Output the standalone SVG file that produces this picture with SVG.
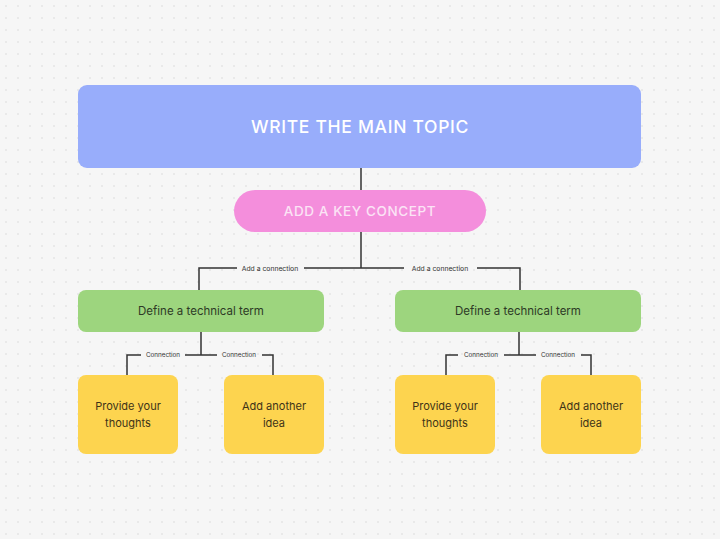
<svg xmlns="http://www.w3.org/2000/svg" width="720" height="539" viewBox="0 0 720 539">
<defs>
<pattern id="dots" x="0" y="0" width="12" height="12" patternUnits="userSpaceOnUse">
<circle cx="6" cy="6" r="0.8" fill="#d9d9d9"/>
</pattern>
<style>
.t{font-family:Inter,"Open Sans","Liberation Sans",sans-serif;text-anchor:middle}
.title{font-size:17.5px;font-weight:500;fill:#ffffff;letter-spacing:0.7px}
.key{font-size:13.5px;font-weight:500;fill:#fbe3f5;letter-spacing:0.6px}
.term{font-size:11.5px;fill:#2e3a26}
.leaf{font-size:11px;fill:#3d3318}
.lbl{font-size:6.8px;fill:#333333}
.lbl2{font-size:6.3px;fill:#333333}
.c{fill:none;stroke:#333333;stroke-width:1.5}
</style>
</defs>
<rect width="720" height="539" fill="#f6f6f6"/>
<rect width="720" height="539" fill="url(#dots)"/>
<g id="connectors">
<path class="c" d="M361 168 V190"/>
<path class="c" d="M361 232 V268"/>
<path class="c" d="M199 290 V268 H237 M304 268 H404 M477 268 H520 V290"/>
<path class="c" d="M201 332 V355 M127 375 V355 H141 M185 355 H217 M262 355 H273 V375"/>
<path class="c" d="M519 332 V355 M446 375 V355 H458 M504 355 H536 M581 355 H591 V375"/>
<text class="t lbl" x="270" y="270.5">Add a connection</text>
<text class="t lbl" x="440" y="270.5">Add a connection</text>
<text class="t lbl2" x="163" y="357.3">Connection</text>
<text class="t lbl2" x="239" y="357.3">Connection</text>
<text class="t lbl2" x="481" y="357.3">Connection</text>
<text class="t lbl2" x="558" y="357.3">Connection</text>
</g>
<g id="main">
<rect x="78" y="85" width="563" height="83" rx="9" fill="#98adfb"/>
<text class="t title" x="360" y="133">WRITE THE MAIN TOPIC</text>
</g>
<g id="key">
<rect x="234" y="190" width="252" height="42" rx="21" fill="#f48edc"/>
<text class="t key" x="360" y="216">ADD A KEY CONCEPT</text>
</g>
<g id="term-left">
<rect x="78" y="290" width="246" height="42" rx="8" fill="#9dd57e"/>
<text class="t term" x="201" y="315">Define a technical term</text>
</g>
<g id="term-right">
<rect x="395" y="290" width="246" height="42" rx="8" fill="#9dd57e"/>
<text class="t term" x="518" y="315">Define a technical term</text>
</g>
<g id="leaf-1">
<rect x="78" y="375" width="100" height="79" rx="8" fill="#fdd44f"/>
<text class="t leaf" x="128" y="410">Provide your</text>
<text class="t leaf" x="128" y="427">thoughts</text>
</g>
<g id="leaf-2">
<rect x="224" y="375" width="100" height="79" rx="8" fill="#fdd44f"/>
<text class="t leaf" x="274" y="410">Add another</text>
<text class="t leaf" x="274" y="427">idea</text>
</g>
<g id="leaf-3">
<rect x="395" y="375" width="100" height="79" rx="8" fill="#fdd44f"/>
<text class="t leaf" x="445" y="410">Provide your</text>
<text class="t leaf" x="445" y="427">thoughts</text>
</g>
<g id="leaf-4">
<rect x="541" y="375" width="100" height="79" rx="8" fill="#fdd44f"/>
<text class="t leaf" x="591" y="410">Add another</text>
<text class="t leaf" x="591" y="427">idea</text>
</g>
</svg>
